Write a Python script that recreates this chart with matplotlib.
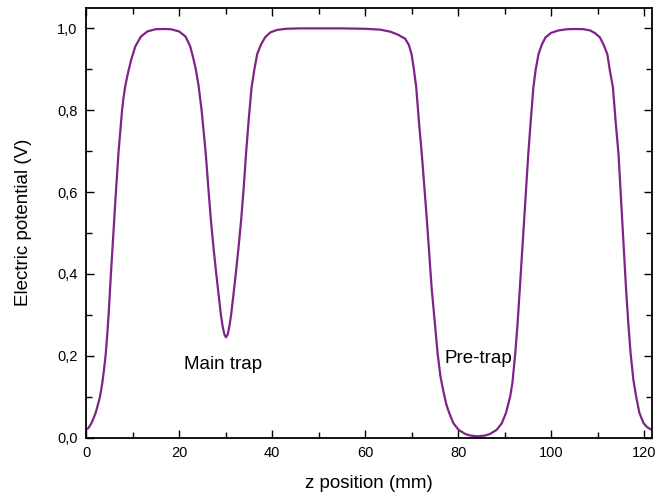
import matplotlib
matplotlib.use('Agg')
import matplotlib.pyplot as plt
from matplotlib.ticker import MultipleLocator, FuncFormatter

plt.rcParams['font.family'] = ['Liberation Sans', 'DejaVu Sans']

# potential along the trap axis
z_mm = [0.0, 0.5, 1.15, 1.6, 2.08, 2.55, 3.0, 3.45, 3.8, 4.2, 4.55, 4.85, 5.35, 5.88,
        6.42, 7.0, 7.75, 8.05, 8.45, 9.0, 9.7, 10.6, 11.8, 13.2, 15.0, 16.6, 18.2,
        20.0, 21.4, 22.4, 23.0, 23.6, 24.2, 24.85, 25.35, 25.75, 26.3, 26.85, 27.45,
        28.0, 28.55, 29.0, 29.4, 29.75, 30.1, 30.45, 30.8, 31.2, 31.65, 32.2, 32.75,
        33.35, 33.9, 34.4, 35.0, 35.6, 36.2, 36.8, 37.6, 38.5, 39.6, 41.0, 43.0, 46.0,
        50.0, 55.0, 60.0, 63.2, 65.4, 67.0, 68.6, 69.4, 70.0, 70.5, 71.0, 71.6, 72.2,
        73.3, 74.3, 75.0, 75.6, 76.2, 76.9, 77.5, 78.1, 79.0, 80.1, 81.5, 82.6, 84.2,
        85.8, 86.9, 88.3, 89.4, 90.3, 91.2, 91.7, 92.3, 92.8, 93.3, 94.2, 95.1, 95.6,
        96.2, 96.7, 97.3, 98.0, 98.8, 100.0, 101.6, 103.5, 105.2, 107.0, 108.4, 109.5,
        110.5, 111.3, 112.1, 112.6, 113.3, 113.9, 114.5, 115.3, 116.1, 116.6, 117.1,
        117.7, 118.3, 119.0, 119.9, 120.6, 121.3, 121.7]
potential = [0.020, 0.023, 0.035, 0.047, 0.061, 0.08, 0.10, 0.13, 0.16, 0.20, 0.25, 0.30,
             0.40, 0.50, 0.60, 0.70, 0.80, 0.83, 0.86, 0.89, 0.923, 0.956, 0.980,
             0.9927, 0.998, 0.9985, 0.998, 0.9927, 0.980, 0.956, 0.93, 0.90, 0.86, 0.80,
             0.74, 0.693, 0.61, 0.531, 0.46, 0.40, 0.345, 0.30, 0.27, 0.252, 0.245,
             0.252, 0.27, 0.30, 0.345, 0.40, 0.46, 0.531, 0.61, 0.693, 0.78, 0.856, 0.90,
             0.937, 0.96, 0.978, 0.990, 0.996, 0.999, 1.0, 1.0, 1.0, 0.999, 0.997, 0.992,
             0.985, 0.975, 0.96, 0.937, 0.90, 0.856, 0.77, 0.693, 0.531, 0.368, 0.28,
             0.206, 0.15, 0.11, 0.08, 0.060, 0.035, 0.019, 0.009, 0.005, 0.003, 0.005,
             0.009, 0.019, 0.035, 0.060, 0.100, 0.135, 0.206, 0.28, 0.368, 0.531, 0.693,
             0.77, 0.856, 0.90, 0.937, 0.96, 0.978, 0.989, 0.995, 0.998, 0.9985, 0.998,
             0.995, 0.988, 0.978, 0.96, 0.937, 0.90, 0.856, 0.77, 0.693, 0.531, 0.368,
             0.28, 0.206, 0.141, 0.100, 0.060, 0.035, 0.026, 0.021, 0.019]

fig = plt.figure(figsize=(6.67, 4.95), dpi=100)
ax = fig.add_axes([0.129, 0.116, 0.8485, 0.868])

ax.plot(z_mm, potential, color='#7e2387', lw=1.6)

ax.set_xlim(0, 121.7)
ax.set_ylim(0, 1.05)

ax.xaxis.set_major_locator(MultipleLocator(20))
ax.xaxis.set_minor_locator(MultipleLocator(10))
ax.yaxis.set_major_locator(MultipleLocator(0.2))
ax.yaxis.set_minor_locator(MultipleLocator(0.1))
ax.yaxis.set_major_formatter(FuncFormatter(lambda v, p: f"{v:.1f}".replace('.', ',')))

ax.tick_params(which='both', direction='in', top=True, right=True, labelsize=10.5,
               width=1, pad=6)
ax.tick_params(which='major', length=5.5)
ax.tick_params(which='minor', length=4)
for s in ax.spines.values():
    s.set_linewidth(1.3)

ax.set_xlabel('z position (mm)', fontsize=13.5, labelpad=11)
ax.set_ylabel('Electric potential (V)', fontsize=13.5, labelpad=18)

ax.text(21.1, 0.178, 'Main trap', fontsize=13.5, va='center', ha='left')
ax.text(77.0, 0.194, 'Pre-trap', fontsize=13.5, va='center', ha='left')

fig.savefig('out.png', dpi=100)
